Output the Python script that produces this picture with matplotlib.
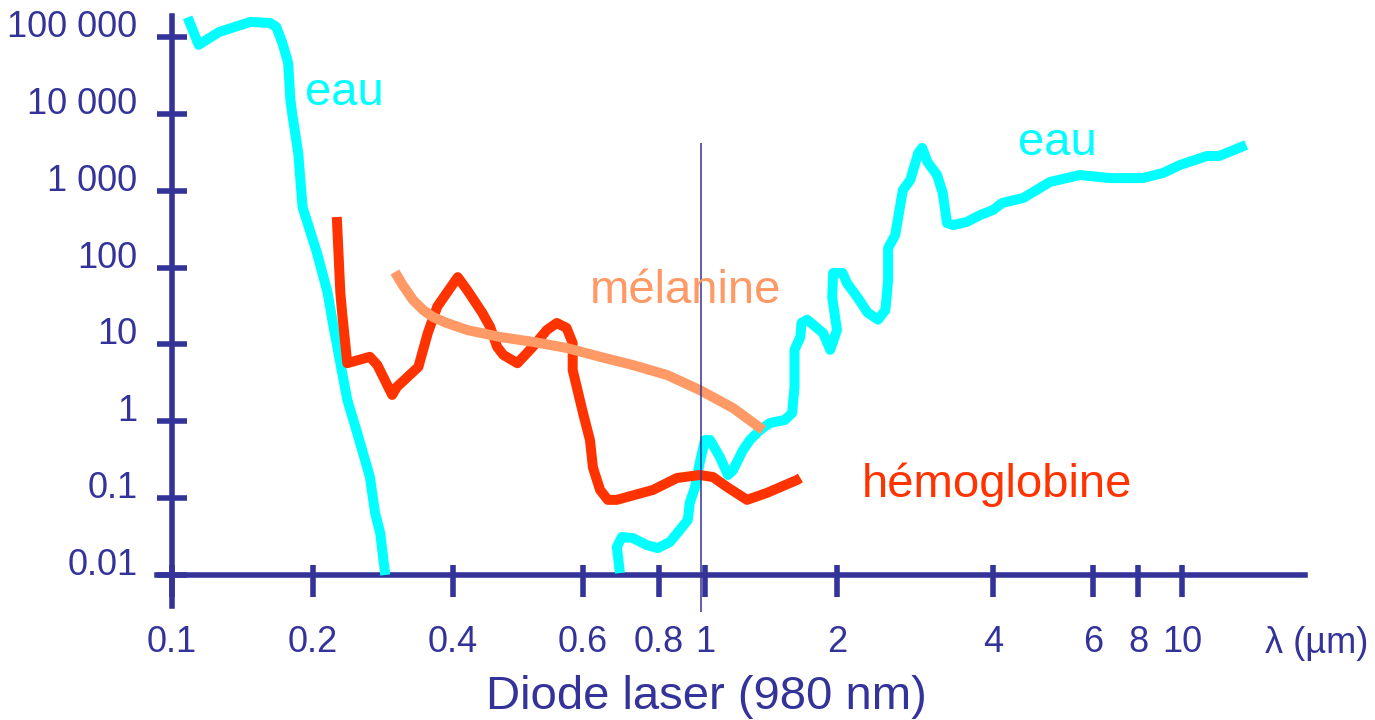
import numpy as np
import matplotlib
matplotlib.use('Agg')
import matplotlib.pyplot as plt

# absorption curves (x in µm, y in arbitrary units)
eau_uv_um = [0.108, 0.114, 0.126, 0.147, 0.162, 0.167, 0.172, 0.177, 0.179, 0.181, 0.186,
             0.190, 0.204, 0.215, 0.220, 0.229, 0.237, 0.249, 0.265, 0.272, 0.279, 0.286]
eau_uv = [180000, 79000, 116000, 157000, 152000, 135000, 84000, 46000, 15000, 9100, 3100,
          610, 155, 47, 21, 5.7, 1.9, 0.70, 0.19, 0.064, 0.035, 0.010]

eau_ir_um = [0.690, 0.682, 0.695, 0.724, 0.764, 0.796, 0.843, 0.885, 0.920, 0.929,
             0.953, 0.975, 1.00, 1.027, 1.082, 1.128, 1.158, 1.22, 1.266, 1.335,
             1.406, 1.52, 1.58, 1.60, 1.60, 1.65, 1.66, 1.71, 1.86, 1.93,
             2.00, 1.95, 1.96, 2.05, 2.09, 2.19, 2.29, 2.40, 2.48, 2.51,
             2.51, 2.59, 2.68, 2.77, 2.87, 2.92, 2.99, 3.12, 3.20, 3.26,
             3.35, 3.56, 3.78, 4.00, 4.15, 4.52, 5.04, 5.69, 6.69, 8.20,
             9.08, 9.90, 11.3, 12.0, 13.7]
eau_ir = [0.0106, 0.0231, 0.0312, 0.0303, 0.0245, 0.0224, 0.0268, 0.0385, 0.052, 0.087,
          0.140, 0.29, 0.57, 0.57, 0.34, 0.20, 0.23, 0.42, 0.57, 0.77,
          0.95, 1.04, 1.28, 2.8, 8.5, 12.5, 19, 21, 14, 8.5,
          15.4, 41, 85, 85, 63, 41, 26, 21, 28, 69,
          179, 265, 1020, 1380, 3100, 3600, 2360, 1600, 930, 380,
          358, 392, 483, 561, 692, 803, 1300, 1600, 1460, 1460,
          1700, 2160, 2830, 2830, 3940]

hb_um = [0.225, 0.229, 0.231, 0.237, 0.265, 0.275, 0.296, 0.303, 0.337, 0.353,
         0.370, 0.388, 0.406, 0.418, 0.438, 0.449, 0.459, 0.468, 0.489, 0.513,
         0.536, 0.553, 0.570, 0.581, 0.581, 0.600, 0.616, 0.623, 0.640, 0.659,
         0.682, 0.782, 0.873, 0.975, 1.043, 1.122, 1.247, 1.384, 1.62, 1.65]
hb = [455, 47, 26, 5.7, 6.9, 5.4, 2.2, 2.8, 5.1, 14,
      31, 47, 75, 51, 26, 17, 9.3, 7.3, 5.7, 9.3,
      15.4, 19, 16.4, 10.4, 4.65, 1.28, 0.57, 0.25, 0.128, 0.095,
      0.095, 0.128, 0.183, 0.200, 0.188, 0.140, 0.095, 0.117, 0.172, 0.183]

mel_um = [0.300, 0.312, 0.328, 0.345, 0.362, 0.388, 0.418, 0.463, 0.513, 0.570,
          0.640, 0.724, 0.832, 0.975, 1.158, 1.356]
mel = [87.5, 59, 38, 28, 22.8, 19.0, 15.4, 12.5, 10.8, 9.0,
       6.9, 5.4, 4.0, 2.55, 1.49, 0.77]

x_ticks = [0.1, 0.2, 0.4, 0.6, 0.8, 1, 2, 4, 6, 8, 10]
x_tick_labels = ['0.1', '0.2', '0.4', '0.6', '0.8', '1', '2', '4', '6', '8', '10']
y_ticks = [0.01, 0.1, 1, 10, 100, 1000, 10000, 100000]
y_tick_labels = ['0.01', '0.1', '1', '10', '100', '1 000', '10 000', '100 000']

diode_um = 0.98
diode_span = (0.0033, 4200)

# colours
AXIS = '#333399'
CYAN = '#00FFFF'
RED = '#FF3300'
MEL = '#FF9966'

W, H = 1375, 720
plt.rcParams['font.family'] = ['Liberation Sans', 'DejaVu Sans']

# the original x axis is hand drawn, decades are not evenly spaced:
# map log10(x) piecewise onto the drawn tick positions (pixels)
anchor_log = np.log10([0.01, 0.1, 0.2, 0.4, 0.6, 0.8, 1, 2, 4, 6, 8, 10, 100])
anchor_px = np.array([-298, 172, 313, 453, 583, 659, 705, 837, 993, 1093, 1138, 1182, 1652])


def fwd(x):
    x = np.asarray(x, dtype=float)
    return np.interp(np.log10(np.clip(x, 1e-9, None)), anchor_log, anchor_px)


def inv(p):
    return 10 ** np.interp(np.asarray(p, dtype=float), anchor_px, anchor_log)


px_per_decade = 76.86  # y axis: 0.01 at 575 px, 1e5 at 37 px

fig = plt.figure(figsize=(W / 100, H / 100), dpi=100)
ax = fig.add_axes([0, 0, 1, 1])
ax.set_xscale('function', functions=(fwd, inv))
ax.set_yscale('log')
ax.set_xlim(float(inv(0)), float(inv(W)))
ax.set_ylim(10 ** (-2 - (H - 575) / px_per_decade), 10 ** (-2 + 575 / px_per_decade))

# curves
LW = 7.2
style = dict(lw=LW, solid_capstyle='butt', solid_joinstyle='round')
ax.plot(eau_uv_um, eau_uv, color=CYAN, zorder=3, **style)
ax.plot(eau_ir_um, eau_ir, color=CYAN, zorder=3, **style)
ax.plot(hb_um, hb, color=RED, zorder=4, **style)
ax.plot(mel_um, mel, color=MEL, zorder=5, **style)
ax.vlines(diode_um, *diode_span, color=AXIS, lw=1.1, zorder=6)

# axes drawn as crossing lines
for s in ['top', 'right']:
    ax.spines[s].set_visible(False)
ax.spines['left'].set_position(('data', 0.1))
ax.spines['left'].set_bounds(0.0039, 1.9e5)
ax.spines['bottom'].set_position(('data', 0.01))
ax.spines['bottom'].set_bounds(0.093, 18.3)
for s in ['left', 'bottom']:
    ax.spines[s].set_color(AXIS)
    ax.spines[s].set_linewidth(4)
    ax.spines[s].set_zorder(2)

ax.set_xticks(x_ticks, x_tick_labels)
ax.set_xticks(x_ticks, minor=True)
ax.xaxis.remove_overlapping_locs = False
ax.set_yticks(y_ticks, y_tick_labels)
ax.yaxis.set_minor_locator(plt.NullLocator())
ax.tick_params(axis='x', which='major', direction='out', length=16, width=4,
               color=AXIS, labelcolor=AXIS, labelsize=26, pad=20)
ax.tick_params(axis='x', which='minor', direction='in', length=7.5, width=4, color=AXIS)
ax.tick_params(axis='y', which='major', direction='inout', length=22, width=4,
               color=AXIS, labelcolor=AXIS, labelsize=26, pad=14)
for lab in ax.get_yticklabels():
    lab.set_verticalalignment('baseline')


def put(px, py, s, color, size=34, ha='left'):
    fig.text(px / W, 1 - py / H, s, color=color, fontsize=size, ha=ha, va='baseline')


put(305, 105, 'eau', CYAN)
put(1018, 155, 'eau', CYAN)
put(590, 303, 'mélanine', MEL)
put(862, 497, 'hémoglobine', RED)
put(1265, 653, 'λ (µm)', AXIS, size=26)
put(706, 709, 'Diode laser (980 nm)', AXIS, size=34, ha='center')

fig.savefig('out.png', dpi=100, facecolor='white')
